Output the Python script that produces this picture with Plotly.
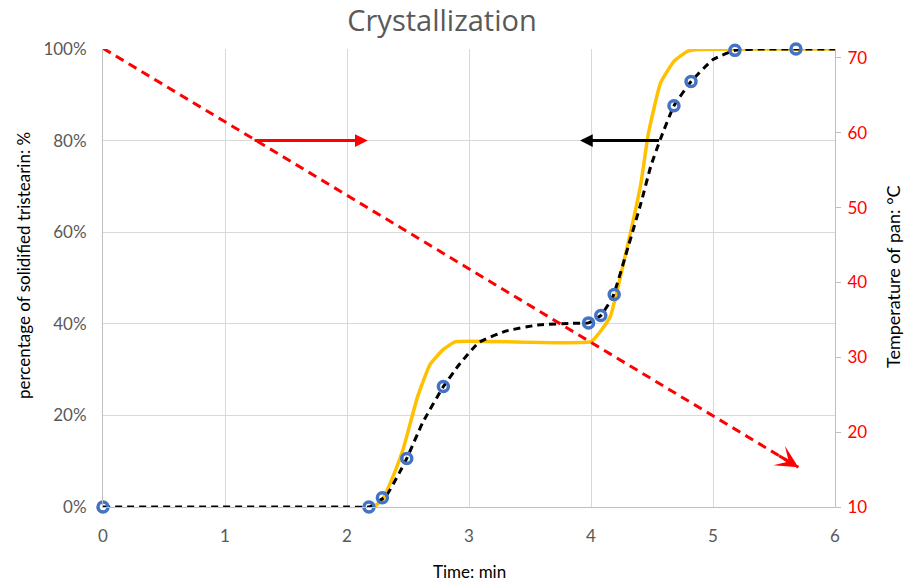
import plotly.graph_objects as go

# Measured crystallization points (time in min, solidified fraction)
meas_t = [0.0, 2.18, 2.29, 2.49, 2.79, 3.98, 4.08, 4.19, 4.68, 4.82, 5.18, 5.68]
meas_y = [0.0, 0.0, 0.02, 0.106, 0.263, 0.402, 0.418, 0.464, 0.876, 0.929, 0.997, 1.0]

# Fitted curve through the measurements (black dashed)
fit_t = [0.0, 2.0, 2.18, 2.32, 2.43, 2.49, 2.62, 2.79, 2.92, 3.08, 3.3, 3.58, 3.85, 3.98,
         4.08, 4.18, 4.31, 4.41, 4.49, 4.57, 4.68, 4.82, 5.0, 5.18, 5.4, 6.0]
fit_y = [0.0, 0.0, 0.0, 0.024, 0.075, 0.106, 0.184, 0.263, 0.311, 0.359, 0.384, 0.398,
         0.401, 0.402, 0.418, 0.46, 0.573, 0.664, 0.744, 0.804, 0.876, 0.929, 0.977,
         0.997, 1.0, 1.0]

# Model prediction (solid gold)
model_t = [2.22, 2.29, 2.39, 2.46, 2.58, 2.68, 2.79, 2.89, 4.0, 4.09, 4.16, 4.23, 4.33,
           4.41, 4.47, 4.57, 4.68, 4.79, 4.89, 6.0]
model_y = [0.0, 0.016, 0.075, 0.126, 0.242, 0.311, 0.344, 0.361, 0.361, 0.388, 0.417,
           0.49, 0.606, 0.708, 0.815, 0.926, 0.973, 0.995, 0.999, 1.0]

# Pan temperature (right axis, degC)
temp_t = [0.0, 5.7]
temp_c = [71.3, 15.3]

# Axis-indicator arrows at the 80 % level
indicator_level = 0.8
temp_arrow_t = [1.23, 2.17]
solid_arrow_t = [4.57, 3.91]

x_ticks = [0, 1, 2, 3, 4, 5, 6]
left_ticks = [0, 0.2, 0.4, 0.6, 0.8, 1.0]
right_ticks = [10, 20, 30, 40, 50, 60, 70]

GRID = "#D9D9D9"
AXIS = "#BFBFBF"
TXT = "#595959"
FONT = "Lato"

fig = go.Figure()

fig.add_trace(go.Scatter(
    x=model_t, y=model_y, mode="lines",
    line=dict(color="#FFC000", width=3.5, shape="spline", smoothing=0.4),
    cliponaxis=False, showlegend=False, yaxis="y"))

fig.add_trace(go.Scatter(
    x=fit_t, y=fit_y, mode="lines",
    line=dict(color="black", width=3, dash="7px,5px", shape="spline", smoothing=0.4),
    cliponaxis=False, showlegend=False, yaxis="y"))

fig.add_trace(go.Scatter(
    x=meas_t, y=meas_y, mode="markers",
    marker=dict(symbol="circle-open", size=10, color="#4472C4", line=dict(width=3.5)),
    cliponaxis=False, showlegend=False, yaxis="y"))

fig.add_trace(go.Scatter(
    x=temp_t, y=temp_c, mode="lines",
    line=dict(color="#FF0000", width=3, dash="9px,6px"),
    cliponaxis=False, showlegend=False, yaxis="y2"))

# arrowhead at the end of the temperature line, pointing along the line
frac = 0.97
tail_t = temp_t[0] + frac * (temp_t[1] - temp_t[0])
tail_c = temp_c[0] + frac * (temp_c[1] - temp_c[0])

annotations = [
    dict(x=temp_t[1], y=temp_c[1], xref="x", yref="y2", ax=tail_t, ay=tail_c,
         axref="x", ayref="y2", text="", showarrow=True, arrowhead=3,
         arrowsize=1.25, arrowwidth=3, arrowcolor="#FF0000", standoff=0),
    dict(x=temp_arrow_t[1], y=indicator_level, xref="x", yref="y", ax=temp_arrow_t[0],
         ay=indicator_level, axref="x", ayref="y", text="", showarrow=True, arrowhead=2,
         arrowsize=0.85, arrowwidth=3, arrowcolor="#FF0000", standoff=0),
    dict(x=solid_arrow_t[1], y=indicator_level, xref="x", yref="y", ax=solid_arrow_t[0],
         ay=indicator_level, axref="x", ayref="y", text="", showarrow=True, arrowhead=2,
         arrowsize=0.85, arrowwidth=3, arrowcolor="black", standoff=0),
]

# axis titles
L, R, T, B, W, H = 103, 69, 49, 75, 904, 582
pw, ph = W - L - R, H - T - B
annotations += [
    dict(text="percentage of solidified tristearin: %", xref="paper", yref="paper",
         x=(23 - L) / pw, y=(H - B - 266) / ph, textangle=-90, showarrow=False,
         xanchor="center", yanchor="middle", font=dict(family=FONT, size=17, color="black")),
    dict(text="Temperature of pan: °C", xref="paper", yref="paper",
         x=(893 - L) / pw, y=(H - B - 277) / ph, textangle=-90, showarrow=False,
         xanchor="center", yanchor="middle", font=dict(family=FONT, size=18, color="black")),
    dict(text="Time: min", xref="paper", yref="paper",
         x=0.5, y=-(571 - (H - B)) / ph, showarrow=False,
         xanchor="center", yanchor="middle", font=dict(family=FONT, size=17, color="black")),
]

fig.update_layout(
    width=W, height=H,
    margin=dict(l=L, r=R, t=T, b=B),
    paper_bgcolor="white", plot_bgcolor="white",
    title=dict(text="Crystallization", x=442 / W, xref="container", xanchor="center",
               y=1 - 21 / H, yref="container", yanchor="middle",
               font=dict(family="Open Sans", size=29, color=TXT)),
    xaxis=dict(range=[0, 6], tickvals=x_ticks, showgrid=True, gridcolor=GRID, gridwidth=1,
               showline=True, linecolor=AXIS, linewidth=1, zeroline=False, ticks="",
               ticklabelstandoff=14, tickfont=dict(family=FONT, size=17, color=TXT)),
    yaxis=dict(range=[0, 1], tickvals=left_ticks, tickformat=".0%", showgrid=True,
               gridcolor=GRID, gridwidth=1, showline=True, linecolor=AXIS, linewidth=1,
               zeroline=False, ticks="", ticklabelstandoff=12,
               tickfont=dict(family=FONT, size=17, color=TXT)),
    yaxis2=dict(range=[10, 71.2], tickvals=right_ticks, overlaying="y", side="right",
                showgrid=False, showline=True, linecolor=AXIS, linewidth=1, zeroline=False,
                ticks="outside", ticklen=5, tickcolor=AXIS, ticklabelstandoff=3,
                tickfont=dict(family=FONT, size=17, color="#FF0000")),
    annotations=annotations,
    showlegend=False,
)

fig.write_html("out.html")
